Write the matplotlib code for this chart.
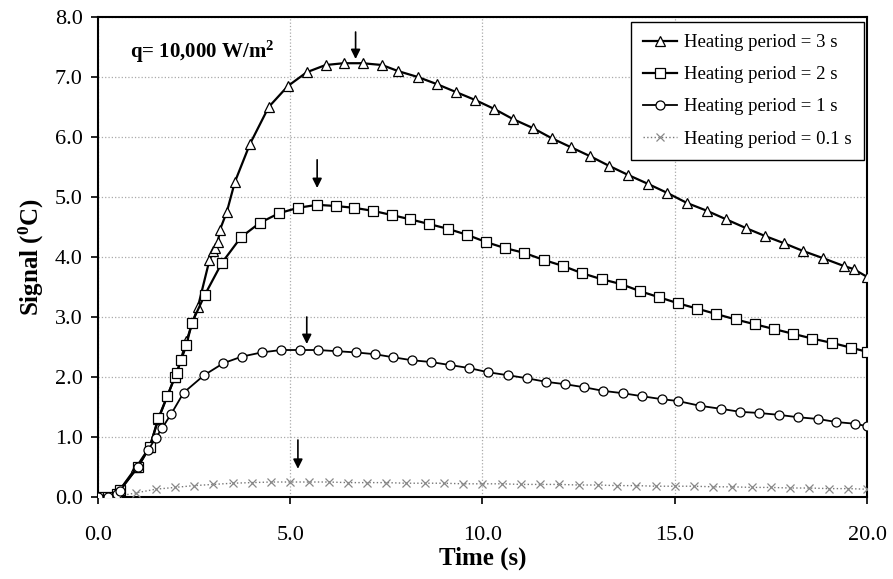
import numpy as np
import matplotlib
matplotlib.use("Agg")
import matplotlib.pyplot as plt

plt.rcParams['font.family'] = ['Liberation Serif', 'DejaVu Serif']
plt.rcParams['mathtext.default'] = 'regular'

# heating period = 3 s
t3 = [0, 0.25, 0.5, 0.57, 1.0, 1.35, 1.57, 2.0, 2.05, 2.3, 2.6, 2.9, 3.0, 3.05, 3.12,
      3.17, 3.35, 3.56, 3.95, 4.44, 4.94, 5.43, 5.92, 6.39, 6.88, 7.39, 7.80, 8.32,
      8.82, 9.31, 9.80, 10.30, 10.79, 11.31, 11.80, 12.30, 12.80, 13.29, 13.78, 14.30,
      14.80, 15.32, 15.84, 16.33, 16.86, 17.35, 17.84, 18.34, 18.86, 19.4, 19.65, 20.0]
s3 = [0, 0, 0.05, 0.12, 0.5, 0.84, 1.3, 2.0, 2.07, 2.6, 3.17, 3.95, 4.1, 4.15, 4.25,
      4.45, 4.75, 5.25, 5.88, 6.5, 6.85, 7.08, 7.2, 7.23, 7.23, 7.2, 7.1, 7.0,
      6.88, 6.75, 6.62, 6.47, 6.3, 6.15, 5.98, 5.83, 5.68, 5.52, 5.37, 5.22,
      5.07, 4.9, 4.77, 4.63, 4.48, 4.35, 4.23, 4.1, 3.98, 3.85, 3.8, 3.67]

# heating period = 2 s
t2 = [0, 0.25, 0.5, 0.57, 1.04, 1.35, 1.57, 1.8, 2.0, 2.05, 2.16, 2.3, 2.44, 2.78,
      3.22, 3.72, 4.21, 4.71, 5.2, 5.7, 6.19, 6.66, 7.15, 7.64, 8.11, 8.61, 9.1, 9.6,
      10.09, 10.58, 11.08, 11.6, 12.1, 12.59, 13.1, 13.6, 14.1, 14.59, 15.08, 15.58,
      16.08, 16.58, 17.08, 17.58, 18.08, 18.58, 19.08, 19.58, 20.0]
s2 = [0, 0, 0.05, 0.12, 0.5, 0.84, 1.31, 1.68, 2.0, 2.07, 2.28, 2.53, 2.9, 3.37,
      3.9, 4.33, 4.57, 4.73, 4.82, 4.87, 4.85, 4.82, 4.77, 4.7, 4.63, 4.55, 4.47, 4.37,
      4.25, 4.15, 4.07, 3.95, 3.85, 3.73, 3.63, 3.55, 3.43, 3.33, 3.23, 3.14,
      3.05, 2.96, 2.88, 2.8, 2.72, 2.64, 2.57, 2.49, 2.42]

# heating period = 1 s
t1 = [0, 0.25, 0.5, 0.57, 1.04, 1.3, 1.5, 1.67, 1.9, 2.23, 2.76, 3.26, 3.74, 4.26,
      4.76, 5.25, 5.72, 6.22, 6.71, 7.2, 7.67, 8.16, 8.66, 9.15, 9.65, 10.14, 10.66,
      11.15, 11.65, 12.15, 12.64, 13.13, 13.65, 14.15, 14.67, 15.08, 15.66, 16.2,
      16.7, 17.2, 17.7, 18.2, 18.73, 19.2, 19.7, 20.0]
s1 = [0, 0, 0.05, 0.1, 0.5, 0.78, 0.98, 1.15, 1.38, 1.74, 2.03, 2.23, 2.34, 2.41,
      2.45, 2.45, 2.45, 2.43, 2.41, 2.38, 2.33, 2.28, 2.25, 2.2, 2.15, 2.08, 2.03,
      1.98, 1.92, 1.88, 1.83, 1.77, 1.73, 1.68, 1.63, 1.6, 1.52, 1.47,
      1.42, 1.4, 1.37, 1.33, 1.3, 1.25, 1.22, 1.18]

# heating period = 0.1 s
t01 = [0, 0.25, 0.5, 1.0, 1.5, 2.0, 2.5, 3.0, 3.5, 4.0, 4.5,
       5.0, 5.5, 6.0, 6.5, 7.0, 7.5, 8.0, 8.5, 9.0, 9.5,
       10.0, 10.5, 11.0, 11.5, 12.0, 12.5, 13.0, 13.5, 14.0, 14.5,
       15.0, 15.5, 16.0, 16.5, 17.0, 17.5, 18.0, 18.5, 19.0, 19.5, 20.0]
s01 = [0, 0, 0.01, 0.07, 0.13, 0.16, 0.19, 0.21, 0.23, 0.24, 0.25,
       0.25, 0.25, 0.25, 0.24, 0.24, 0.24, 0.23, 0.23, 0.23, 0.22,
       0.22, 0.22, 0.21, 0.21, 0.21, 0.20, 0.20, 0.19, 0.19, 0.18,
       0.18, 0.18, 0.17, 0.17, 0.16, 0.16, 0.15, 0.15, 0.14, 0.14, 0.13]

# peak arrows: (x, tail y, tip y)
arrows = [(6.7, 7.75, 7.30), (5.7, 5.62, 5.15), (5.43, 3.0, 2.55), (5.2, 0.95, 0.47)]

fig = plt.figure(figsize=(8.93, 5.79), dpi=100)
ax = fig.add_axes([0.1097, 0.1416, 0.8612, 0.8290])

ax.plot(t3, s3, color='black', lw=1.6, marker='^', ms=7, mfc='white', mec='black',
        mew=0.9, label='Heating period = 3 s', zorder=4)
ax.plot(t2, s2, color='black', lw=1.6, marker='s', ms=6.5, mfc='white', mec='black',
        mew=0.9, label='Heating period = 2 s', zorder=4)
ax.plot(t1, s1, color='black', lw=1.3, marker='o', ms=6.5, mfc='white', mec='black',
        mew=0.9, label='Heating period = 1 s', zorder=4)
ax.plot(t01, s01, color='#777777', lw=1.0, ls=':', marker='x', ms=6, mec='#888888',
        mew=0.9, label='Heating period = 0.1 s', zorder=3)

for x, y0, y1 in arrows:
    ax.annotate('', xy=(x, y1), xytext=(x, y0),
                arrowprops=dict(arrowstyle='-|>', color='black', lw=1.2,
                                mutation_scale=14, shrinkA=0, shrinkB=0), zorder=5)

ax.text(0.042, 0.915, 'q= 10,000 W/m$^{2}$', transform=ax.transAxes,
        fontsize=15, fontweight='bold', va='baseline', ha='left')

ax.set_xlim(0, 20)
ax.set_ylim(0, 8)
ax.set_xticks([0, 5, 10, 15, 20])
ax.set_yticks(np.arange(0, 8.5, 1.0))
ax.xaxis.set_major_formatter(plt.FormatStrFormatter('%.1f'))
ax.yaxis.set_major_formatter(plt.FormatStrFormatter('%.1f'))
ax.tick_params(direction='out', length=5, width=1.2, labelsize=16, pad=6)
ax.tick_params(axis='x', pad=16)
ax.grid(True, color='#aaaaaa', ls=':', lw=0.9, zorder=0)
for sp in ax.spines.values():
    sp.set_linewidth(1.5)

ax.set_xlabel('Time (s)', fontsize=18, fontweight='bold', labelpad=1)
ax.set_ylabel('Signal ($^{0}$C)', fontsize=18, fontweight='bold', labelpad=6)

leg = ax.legend(loc='upper right', bbox_to_anchor=(0.996, 0.99), borderaxespad=0,
                fontsize=13.5, frameon=True, fancybox=False, edgecolor='black',
                framealpha=1, handlelength=1.8, labelspacing=0.8, borderpad=0.65,
                handletextpad=0.4)
leg.get_frame().set_linewidth(1.0)

fig.savefig('out.png', dpi=100)
